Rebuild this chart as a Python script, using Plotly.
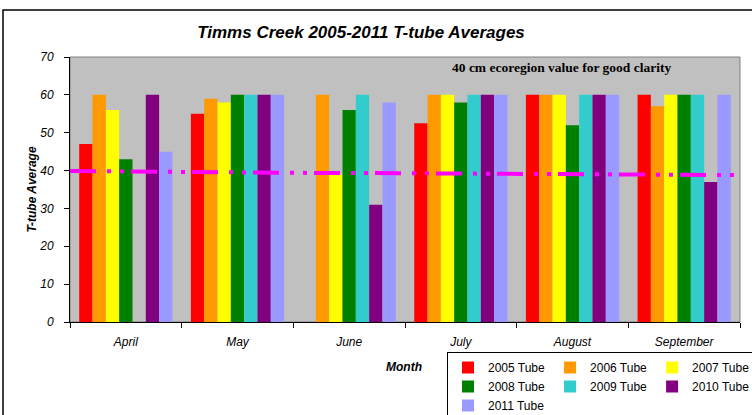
"""Timms Creek T-tube averages, grouped bars with the ecoregion reference line."""

import plotly.graph_objects as go

MONTHS = ["April", "May", "June", "July", "August", "September"]

TUBE_2005 = [47, 55, None, 52.5, 60, 60]
TUBE_2006 = [60, 59, 60, 60, 60, 57]
TUBE_2007 = [56, 58, 39, 60, 60, 60]
TUBE_2008 = [43, 60, 56, 58, 52, 60]
TUBE_2009 = [None, 60, 60, 60, 60, 60]
TUBE_2010 = [60, 60, 31, 60, 60, 37]
TUBE_2011 = [45, 60, 58, 60, 60, 60]

# ecoregion line, read at the category boundaries (left edge .. right edge)
ECO_EDGES = [0, 1, 2, 3, 4, 5, 6]
ECO_VALUES = [39.9, 39.6, 39.4, 39.3, 39.2, 39.0, 38.8]

SERIES = [
    ("2005 Tube", TUBE_2005, "#FF0000"),
    ("2006 Tube", TUBE_2006, "#FF9900"),
    ("2007 Tube", TUBE_2007, "#FFFF00"),
    ("2008 Tube", TUBE_2008, "#008000"),
    ("2009 Tube", TUBE_2009, "#33CCCC"),
    ("2010 Tube", TUBE_2010, "#800080"),
    ("2011 Tube", TUBE_2011, "#9999FF"),
]

W, H = 752, 415
ML, MR, MT, MB = 70, 12, 57, 93
PW, PH = W - ML - MR, H - MT - MB

FONT = "Liberation Sans, Arial, sans-serif"


def px_x(p):
    return (p - ML) / PW


def px_y(p):
    return (H - MB - p) / PH


fig = go.Figure()
for name, vals, color in SERIES:
    fig.add_trace(go.Bar(
        x=MONTHS, y=vals, name=name,
        marker=dict(color=color, line=dict(width=0)),
        hovertemplate="%{x}: %{y}<extra>" + name + "</extra>",
    ))

fig.add_trace(go.Scatter(
    x=ECO_EDGES, y=ECO_VALUES, xaxis="x2",
    mode="lines", showlegend=False,
    line=dict(color="#FF00FF", width=4, dash="26px,11px,4px,9px,4px,7px"),
    hoverinfo="skip",
))

fig.update_layout(
    width=W, height=H,
    paper_bgcolor="white",
    plot_bgcolor="#C0C0C0",
    margin=dict(l=ML, r=MR, t=MT, b=MB, autoexpand=False),
    font=dict(family=FONT, color="black", size=12),
    barmode="group",
    bargap=0.165,
    bargroupgap=0,
    title=dict(
        text="Timms Creek 2005-2011 T-tube Averages",
        x=361 / W, xanchor="center", y=1 - 32 / H, yanchor="middle",
        font=dict(size=17, weight="bold", style="italic", family=FONT),
    ),
    xaxis=dict(
        type="category",
        showline=True, linecolor="black", linewidth=1,
        ticks="outside", ticklen=5, tickcolor="black", tickson="boundaries",
        showgrid=False, zeroline=False,
        tickfont=dict(size=12, style="italic"),
        ticklabelstandoff=9,
    ),
    xaxis2=dict(overlaying="x", range=[0, 6], visible=False),
    yaxis=dict(
        range=[0, 70], dtick=10,
        showline=True, linecolor="black", linewidth=1,
        ticks="outside", ticklen=5, tickcolor="black",
        showgrid=False, zeroline=False,
        tickfont=dict(size=12, style="italic"),
        ticklabelstandoff=8,
        title=dict(text="T-tube Average", standoff=0,
                   font=dict(size=12, weight="bold", style="italic")),
    ),
    legend=dict(
        orientation="h",
        x=px_x(756), xanchor="right",
        yref="container", y=1 - 352 / H, yanchor="top",
        bgcolor="white", bordercolor="black", borderwidth=1,
        font=dict(size=12, family=FONT),
        traceorder="normal",
    ),
    showlegend=True,
)

# x-axis title (placed by hand: standoff is ignored with fixed margins)
fig.add_annotation(
    text="Month",
    xref="paper", yref="paper", x=px_x(404), y=px_y(367),
    xanchor="center", yanchor="middle", showarrow=False,
    font=dict(size=12, weight="bold", style="italic", family=FONT),
)

fig.add_annotation(
    text="40 cm ecoregion value for good clarity",
    xref="paper", yref="paper", x=px_x(561), y=px_y(67),
    xanchor="center", yanchor="middle",
    showarrow=False,
    font=dict(family="Liberation Serif, Times New Roman, serif", size=13.5,
              weight="bold", color="black"),
)

# gray frame of the plot area and black outer chart border
fig.add_shape(type="rect", xref="paper", yref="paper", x0=0, y0=0, x1=1, y1=1,
              line=dict(color="#808080", width=1), layer="below")
fig.add_shape(type="rect", xref="paper", yref="paper",
              x0=px_x(3), y0=px_y(430), x1=px_x(775), y1=px_y(10),
              line=dict(color="black", width=1.5), layer="below")

# drop the browser's default body margin so the page matches the figure pixels
fig.write_html("out.html", config={"displayModeBar": False},
               post_script="document.body.style.margin = '0px';")
